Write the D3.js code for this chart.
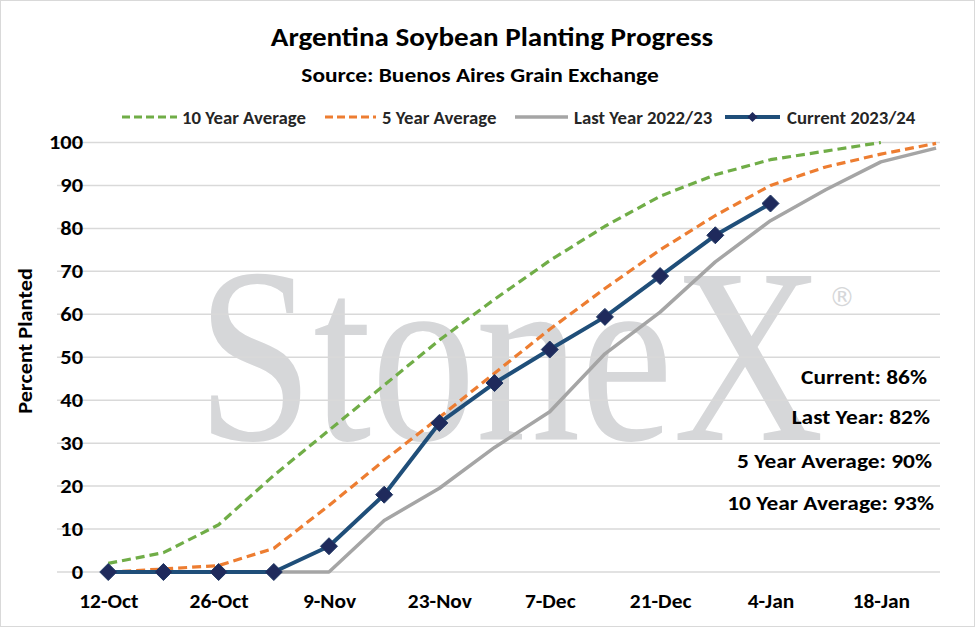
<!DOCTYPE html>
<html>
<head>
<meta charset="utf-8">
<script src="https://cdn.jsdelivr.net/npm/d3@7"></script>
<style>
  html, body { margin: 0; padding: 0; background: #fff; }
  svg { display: block; }
  text { font-family: Carlito, Lato, "Open Sans", sans-serif; font-weight: bold; }
</style>
</head>
<body>
<svg id="chart" width="975" height="627"></svg>
<script>
// ---- data ----
const weeks = ["2023-10-12","2023-10-19","2023-10-26","2023-11-02","2023-11-09","2023-11-16","2023-11-23","2023-11-30",
               "2023-12-07","2023-12-14","2023-12-21","2023-12-28","2024-01-04","2024-01-11","2024-01-18","2024-01-25"];
const tenYearAvg  = [2, 4.5, 11, 22.5, 33, 43.5, 54, 63.5, 72.5, 80.5, 87.5, 92.5, 96, 98, 100, null];
const fiveYearAvg = [0, 0.7, 1.5, 5.5, 15.5, 26, 36, 46.3, 56.5, 66, 75, 83, 90, 94.3, 97.3, 99.8];
const lastYear    = [0, 0, 0, 0, 0, 12, 19.5, 29, 37.3, 50.8, 60.5, 72.2, 81.8, 89, 95.5, 98.7];
const current     = [0, 0, 0, 0, 6, 18, 34.7, 44, 51.8, 59.4, 68.9, 78.4, 85.8];
const xTickLabels = ["2023-10-12","2023-10-26","2023-11-09","2023-11-23","2023-12-07","2023-12-21","2024-01-04","2024-01-18"];
const yTicks = [0,10,20,30,40,50,60,70,80,90,100];
const seriesNames = ["10 Year Average","5 Year Average","Last Year 2022/23","Current 2023/24"];
const annotations = ["Current: 86%","Last Year: 82%","5 Year Average: 90%","10 Year Average: 93%"];

const parse = d3.timeParse("%Y-%m-%d");
const dates = weeks.map(parse);

const svg = d3.select("#chart");
const W = 975, H = 627;
const plot = {left: 57, right: 940, top: 142.5, bottom: 572};

// border
svg.append("rect").attr("x",0.5).attr("y",0.5).attr("width",W-1).attr("height",H-1)
  .attr("fill","#fff").attr("stroke","#d9d9d9").attr("stroke-width",1);

const x = d3.scaleTime()
  .domain([new Date(2023,9,5,12), new Date(2024,0,25,12)])
  .range([plot.left, plot.right]);
const y = d3.scaleLinear().domain([0,100]).range([plot.bottom, plot.top]);

// watermark
svg.append("text").attr("transform","translate(197,440) scale(1,1.2)")
  .style("font-family","'Liberation Serif', 'DejaVu Serif', serif").style("font-weight","normal")
  .style("font-size","209px").attr("fill","#d6d7d9").text("StoneX");
svg.append("text").attr("x",842).attr("y",306).attr("text-anchor","middle")
  .style("font-family","'DejaVu Sans', sans-serif").style("font-weight","normal")
  .style("font-size","26px").attr("fill","#d6d7d9").text("®");

// gridlines
svg.append("g").selectAll("line").data(yTicks).join("line")
  .attr("x1",plot.left).attr("x2",plot.right)
  .attr("y1",d=>y(d)).attr("y2",d=>y(d))
  .attr("stroke","#d9d9d9").attr("stroke-width",1.5);

// y axis labels
const yAxis = d3.axisLeft(y).tickValues(yTicks).tickSize(0).tickPadding(0).tickFormat(d3.format("d"));
const gy = svg.append("g").attr("transform",`translate(83,0)`).call(yAxis);
gy.select(".domain").remove();
gy.selectAll("text").style("font-size","19.5px").style("font-weight","bold").attr("fill","#000")
  .style("font-family","Carlito, Lato, sans-serif").attr("transform","scale(1.15,1)");

// x axis labels
const xAxis = d3.axisBottom(x).tickValues(xTickLabels.map(parse)).tickSize(0).tickPadding(0)
  .tickFormat(d3.timeFormat("%-d-%b"));
const gx = svg.append("g").attr("transform",`translate(0,594)`).call(xAxis);
gx.select(".domain").remove();
gx.selectAll("text").style("font-size","19.5px").style("font-weight","bold").attr("fill","#000")
  .style("font-family","Carlito, Lato, sans-serif").attr("transform","scale(1.1,1)");

// y title
svg.append("text").attr("transform","translate(32,341) rotate(-90) scale(1.14,1)").attr("text-anchor","middle")
  .style("font-size","19.5px").text("Percent Planted");

// titles
svg.append("text").attr("transform","translate(492,46) scale(1.15,1)").attr("text-anchor","middle")
  .style("font-size","25.3px").text("Argentina Soybean Planting Progress");
svg.append("text").attr("transform","translate(480,82) scale(1.2,1)").attr("text-anchor","middle")
  .style("font-size","19.5px").text("Source: Buenos Aires Grain Exchange");

// lines
const line = d3.line().defined(d=>d.v!=null).x(d=>x(d.d)).y(d=>y(d.v));
const mk = arr => arr.map((v,i)=>({d:dates[i], v}));
const styles = [
  {data: tenYearAvg, color:"#70ad47", dash:"9,5", ldash:"8,4", w:3.2},
  {data: fiveYearAvg, color:"#ed7d31", dash:"9,5", ldash:"8,4", w:3.2},
  {data: lastYear, color:"#a5a5a5", dash:null, ldash:null, w:3.5},
  {data: current, color:"#1f4e79", dash:null, ldash:null, w:4}
];
styles.forEach(s=>{
  svg.append("path").datum(mk(s.data)).attr("d",line)
    .attr("fill","none").attr("stroke",s.color).attr("stroke-width",s.w)
    .attr("stroke-dasharray",s.dash).attr("stroke-linejoin","round");
});

// markers
const diamond = (cx,cy,r) => `M${cx},${cy-r}L${cx+r},${cy}L${cx},${cy+r}L${cx-r},${cy}Z`;
svg.append("g").selectAll("path").data(mk(current)).join("path")
  .attr("d",d=>diamond(x(d.d),y(d.v),8.5))
  .attr("fill","#1f2a5c").attr("stroke","#203864").attr("stroke-width",1);

// legend
const legendItems = [
  {x0:122, x1:177, tx:182},
  {x0:325, x1:376, tx:382},
  {x0:515, x1:568, tx:574},
  {x0:725, x1:780, tx:787}
];
const lg = svg.append("g");
legendItems.forEach((it,i)=>{
  const s = styles[i];
  lg.append("line").attr("x1",it.x0).attr("x2",it.x1).attr("y1",117).attr("y2",117)
    .attr("stroke",s.color).attr("stroke-width",s.w).attr("stroke-dasharray",s.ldash);
  if(i===3){
    lg.append("path").attr("d",diamond((it.x0+it.x1)/2,117,5)).attr("fill","#1f2a5c");
  }
  lg.append("text").attr("transform",`translate(${it.tx},123.5) scale(1.02,1)`)
    .style("font-size","18.4px").attr("fill","#262626").text(seriesNames[i]);
});

// annotations
const annY = [384, 424, 468, 510];
const annX = [927, 930, 932, 934];
svg.append("g").selectAll("text").data(annotations).join("text")
  .attr("transform",(d,i)=>`translate(${annX[i]},${annY[i]}) scale(1.13,1)`).attr("text-anchor","end")
  .style("font-size","20.7px").attr("fill","#000").text(d=>d);
</script>
</body>
</html>
